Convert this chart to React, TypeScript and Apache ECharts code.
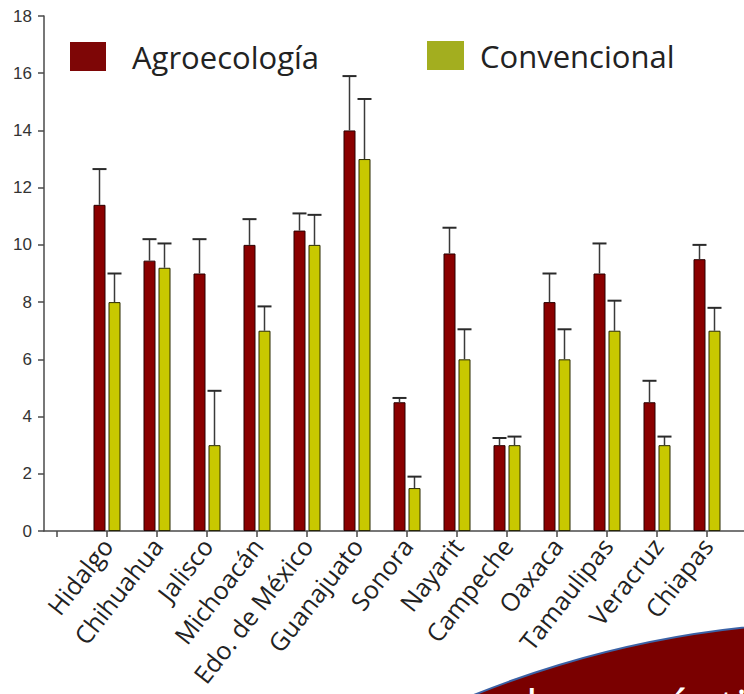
import { useEffect, useRef } from "react";
import * as echarts from "echarts";

// Estados (categorías del eje X)
const states = [
  "Hidalgo",
  "Chihuahua",
  "Jalisco",
  "Michoacán",
  "Edo. de México",
  "Guanajuato",
  "Sonora",
  "Nayarit",
  "Campeche",
  "Oaxaca",
  "Tamaulipas",
  "Veracruz",
  "Chiapas",
];

// Medias por estado y su desviación (barra de error superior)
const agroecologia = [11.4, 9.45, 9.0, 10.0, 10.5, 14.0, 4.5, 9.7, 3.0, 8.0, 9.0, 4.5, 9.5];
const agroecologiaErr = [1.25, 0.75, 1.2, 0.9, 0.6, 1.9, 0.15, 0.9, 0.25, 1.0, 1.05, 0.75, 0.5];
const convencional = [8.0, 9.2, 3.0, 7.0, 10.0, 13.0, 1.5, 6.0, 3.0, 6.0, 7.0, 3.0, 7.0];
const convencionalErr = [1.0, 0.85, 1.9, 0.85, 1.05, 2.1, 0.4, 1.05, 0.3, 1.05, 1.05, 0.3, 0.8];

// Marcas del eje X: una vacía antes del primer estado y una por estado
const xTickValues = [-1, ...states.map((_, i) => i)];
const xLabelValues = states.map((_, i) => i);

const Y_MAX = 18;
const Y_STEP = 2;

const RED = "#8a0000";
const YELLOW = "#c8c800";
const BAR_W = 12;
const BAR_GAP = 3;

function errorSeries(values: number[], errs: number[], dx: number) {
  return {
    type: "custom",
    silent: true,
    z: 3,
    encode: { x: 0, y: 1 },
    data: values.map((v, i) => [i, v, errs[i]]),
    renderItem: (_params: any, api: any) => {
      const x = api.value(0);
      const v = api.value(1);
      const e = api.value(2);
      const base = api.coord([x, v]);
      const top = api.coord([x, v + e]);
      const cx = base[0] + dx;
      return {
        type: "group",
        children: [
          {
            type: "line",
            shape: { x1: cx, y1: base[1], x2: cx, y2: top[1] },
            style: { stroke: "#3a3a3a", lineWidth: 1.5 },
          },
          {
            type: "line",
            shape: { x1: cx - 7, y1: top[1], x2: cx + 7, y2: top[1] },
            style: { stroke: "#2a2a2a", lineWidth: 2 },
          },
        ],
      };
    },
  };
}

export default function App() {
  const ref = useRef<HTMLDivElement>(null);

  useEffect(() => {
    if (!ref.current) return;
    const chart = echarts.init(ref.current, undefined, { renderer: "svg" });
    const offset = (BAR_W + BAR_GAP) / 2;

    chart.setOption({
      animation: false,
      backgroundColor: "#ffffff",
      grid: { left: 44, right: 0, top: 16, bottom: 163 },
      legend: [
        {
          data: [
            {
              name: "Agroecología",
              itemStyle: { color: "#7e0606", borderWidth: 0 },
            },
          ],
          left: 70,
          top: 41,
          padding: 0,
          icon: "rect",
          itemWidth: 36,
          itemHeight: 29,
          selectedMode: false,
          textStyle: {
            fontFamily: "Open Sans",
            fontSize: 31,
            color: "#222",
            padding: [0, 0, 0, 21],
          },
        },
        {
          data: [
            {
              name: "Convencional",
              itemStyle: { color: "#a3ae1f", borderWidth: 0 },
            },
          ],
          left: 427,
          top: 40,
          padding: 0,
          icon: "rect",
          itemWidth: 37,
          itemHeight: 29,
          selectedMode: false,
          textStyle: {
            fontFamily: "Open Sans",
            fontSize: 31,
            color: "#222",
            padding: [0, 0, 0, 11],
          },
        },
      ],
      xAxis: {
        type: "value",
        min: -1.26,
        max: 12.74,
        splitLine: { show: false },
        axisLine: {
          show: true,
          onZero: false,
          lineStyle: { color: "#4a4a4a", width: 1.5 },
        },
        axisTick: {
          show: true,
          length: 6,
          customValues: xTickValues,
          lineStyle: { color: "#4a4a4a", width: 1.5 },
        },
        axisLabel: {
          customValues: xLabelValues,
          formatter: (v: number) => states[Math.round(v)] ?? "",
          rotate: 52,
          margin: 10,
          fontFamily: "Open Sans",
          fontSize: 25,
          color: "#222",
        },
      },
      yAxis: {
        type: "value",
        min: 0,
        max: Y_MAX,
        interval: Y_STEP,
        splitLine: { show: false },
        axisLine: {
          show: true,
          onZero: false,
          lineStyle: { color: "#4a4a4a", width: 1.5 },
        },
        axisTick: { show: true, length: 6, lineStyle: { color: "#4a4a4a", width: 1.5 } },
        axisLabel: {
          margin: 12,
          fontFamily: "Liberation Sans",
          fontSize: 17,
          color: "#333",
        },
      },
      series: [
        {
          name: "Agroecología",
          type: "bar",
          barWidth: BAR_W,
          barGap: `${(BAR_GAP / BAR_W) * 100}%`,
          data: agroecologia.map((v, i) => [i, v]),
          itemStyle: { color: RED, borderColor: "#2a0000", borderWidth: 1 },
        },
        {
          name: "Convencional",
          type: "bar",
          barWidth: BAR_W,
          barGap: `${(BAR_GAP / BAR_W) * 100}%`,
          data: convencional.map((v, i) => [i, v]),
          itemStyle: { color: YELLOW, borderColor: "#2a2a00", borderWidth: 1 },
        },
        errorSeries(agroecologia, agroecologiaErr, -offset),
        errorSeries(convencional, convencionalErr, offset),
      ],
      graphic: [
        {
          type: "circle",
          z: 10,
          shape: { cx: 850, cy: 1627, r: 1005 },
          style: { fill: "#7a0000", stroke: "#3b62a6", lineWidth: 2 },
        },
        {
          type: "text",
          z: 11,
          x: 526,
          y: 705,
          style: {
            text: "la semántica",
            fill: "#ffffff",
            font: '46px "Open Sans"',
            verticalAlign: "middle",
          },
        },
      ],
    });

    return () => chart.dispose();
  }, []);

  return (
    <div
      ref={ref}
      style={{ position: "fixed", left: 0, top: 0, width: 744, height: 694 }}
    />
  );
}
